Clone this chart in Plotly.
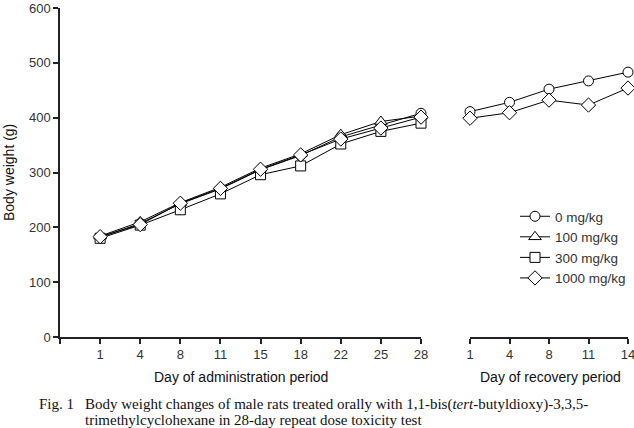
import plotly.graph_objects as go

# ---- data ----
admin_days = ["1", "4", "8", "11", "15", "18", "22", "25", "28"]
bw_0 = [182, 207, 243, 270, 305, 331, 365, 386, 408]
bw_100 = [184, 210, 245, 273, 308, 334, 369, 393, 403]
bw_300 = [180, 204, 232, 261, 296, 312, 352, 375, 390]
bw_1000 = [183, 205, 244, 271, 306, 332, 361, 381, 401]

recovery_days = ["1", "4", "8", "11", "14"]
rec_0 = [411, 428, 452, 467, 483]
rec_1000 = [399, 409, 432, 423, 454]

groups = ["0 mg/kg", "100 mg/kg", "300 mg/kg", "1000 mg/kg"]
y_ticks = [0, 100, 200, 300, 400, 500, 600]

# ---- layout helpers (pixel geometry) ----
W, H = 634, 428
ML, MR, MT, MB = 60, 6, 8, 91
PW = W - ML - MR
PH = H - MT - MB


def px(x):
    return (x - ML) / PW


def py(y):
    return (H - MB - y) / PH


symbols = {"0 mg/kg": ("circle", 10), "100 mg/kg": ("triangle-up", 11),
           "300 mg/kg": ("square", 10), "1000 mg/kg": ("diamond", 11)}

admin_x = list(range(1, len(admin_days) + 1))
rec_x = list(range(len(recovery_days)))

fig = go.Figure()
for name, vals in zip(groups, [bw_0, bw_100, bw_300, bw_1000]):
    sym, sz = symbols[name]
    fig.add_trace(go.Scatter(
        x=admin_x, y=vals, name=name, legendgroup=name, mode="lines+markers",
        line=dict(color="black", width=1),
        marker=dict(symbol=sym, size=sz, color="white", line=dict(color="black", width=1)),
        cliponaxis=False, xaxis="x", yaxis="y"))

for name, vals in zip(["0 mg/kg", "1000 mg/kg"], [rec_0, rec_1000]):
    sym, sz = symbols[name]
    fig.add_trace(go.Scatter(
        x=rec_x, y=vals, name=name, legendgroup=name, showlegend=False,
        mode="lines+markers",
        line=dict(color="black", width=1),
        marker=dict(symbol=sym, size=sz, color="white", line=dict(color="black", width=1)),
        cliponaxis=False, xaxis="x2", yaxis="y"))

tickfont = dict(family="Liberation Sans, Arial, sans-serif", size=13, color="#333")
axis_common = dict(showline=True, linecolor="#222", linewidth=1.5, ticks="outside",
                   ticklen=5, tickcolor="#222", tickwidth=1.5, showgrid=False,
                   zeroline=False, tickfont=tickfont, automargin=False,
                   ticklabeloverflow="allow")

fig.update_layout(
    width=W, height=H,
    margin=dict(l=ML, r=MR, t=MT, b=MB, pad=0, autoexpand=False),
    paper_bgcolor="white", plot_bgcolor="white",
    showlegend=True,
    legend=dict(x=px(515), y=py(201), xanchor="left", yanchor="top",
                font=dict(family="Liberation Sans, Arial, sans-serif", size=13.5, color="#333"),
                bgcolor="rgba(0,0,0,0)", tracegroupgap=0, itemwidth=30),
    xaxis=dict(domain=[0, px(421)], range=[0, len(admin_days)],
               tickvals=[0] + admin_x, ticktext=[""] + admin_days, anchor="y", **axis_common),
    xaxis2=dict(domain=[px(470), px(628)], range=[0, len(recovery_days) - 1],
                tickvals=rec_x, ticktext=recovery_days, anchor="y", **axis_common),
    yaxis=dict(range=[0, 600], tickvals=y_ticks, domain=[0, 1], **axis_common),
)

label_font = dict(family="Liberation Sans, Arial, sans-serif", size=14, color="#111")
cap_font = dict(family="Liberation Serif, DejaVu Serif, serif", size=15, color="#111")
annotations = [
    dict(text="Body weight (g)", x=px(9), y=py(173), textangle=-90, font=label_font),
    dict(text="Day of administration period", x=px(241), y=py(377), font=label_font),
    dict(text="Day of recovery period", x=px(550), y=py(377), font=label_font),
    dict(text="Fig. 1", x=px(37), y=py(404), xanchor="left", font=cap_font),
    dict(text="Body weight changes of male rats treated orally with 1,1-bis(<i>tert</i>-butyldioxy)-3,3,5-",
         x=px(83), y=py(404), xanchor="left", font=cap_font),
    dict(text="trimethylcyclohexane in 28-day repeat dose toxicity test",
         x=px(83), y=py(420), xanchor="left", font=cap_font),
]
for a in annotations:
    a.setdefault("xanchor", "center")
    a.setdefault("yanchor", "middle")
    a.update(xref="paper", yref="paper", showarrow=False)
fig.update_layout(annotations=annotations)

fig.write_html("out.html", config={"displayModeBar": False},
               post_script="document.body.style.margin='0';")
